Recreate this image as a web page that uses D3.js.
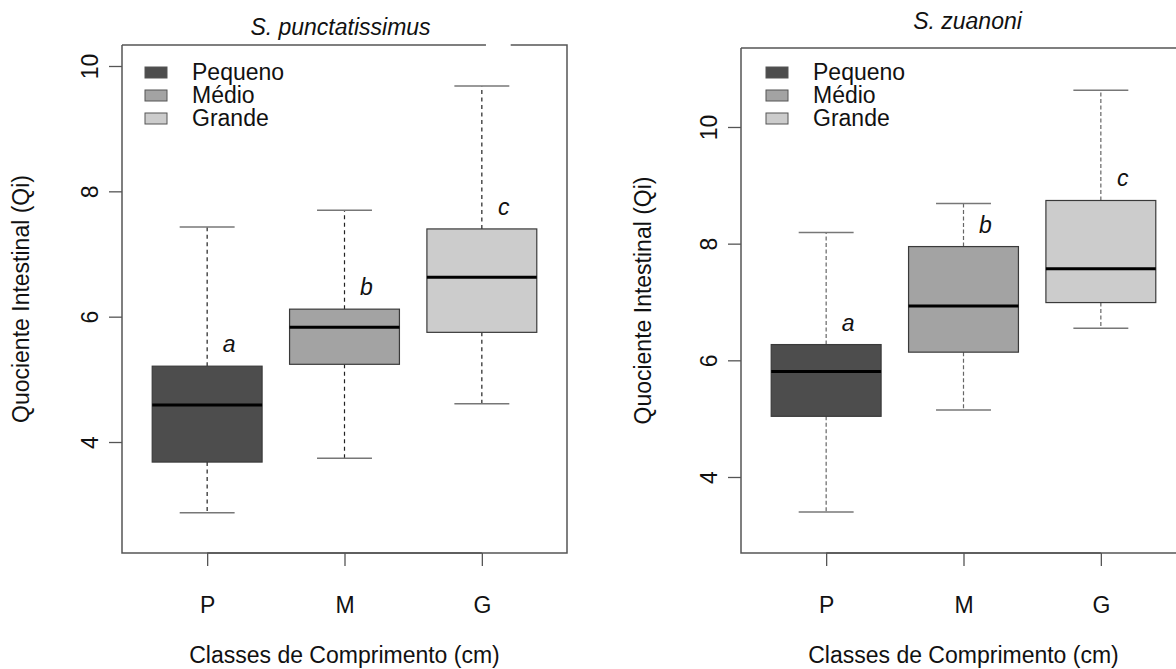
<!DOCTYPE html>
<html>
<head>
<meta charset="utf-8">
<script src="https://cdn.jsdelivr.net/npm/d3@7/dist/d3.min.js"></script>
<style>
  html, body { margin: 0; padding: 0; background: #fff; }
  svg { display: block; font-family: "Liberation Sans", Arial, Helvetica, sans-serif; }
</style>
</head>
<body>
<svg id="chart" width="1176" height="669"></svg>
<script>
// Size classes and their legend names
const classes = ["P", "M", "G"];
const classNames = ["Pequeno", "Médio", "Grande"];
const classFills = ["#4d4d4d", "#a3a3a3", "#cccccc"];

// Y-axis ticks per species
const ticksPunct = [4, 6, 8, 10];
const ticksZuan = [4, 6, 8, 10];

// Five-number summaries (lower whisker, Q1, median, Q3, upper whisker)
const punctLow = [2.87, 3.74, 4.61];
const punctQ1 = [3.68, 5.24, 5.75];
const punctMed = [4.59, 5.83, 6.63];
const punctQ3 = [5.21, 6.12, 7.40];
const punctHigh = [7.43, 7.70, 9.68];
const punctLetters = ["a", "b", "c"];

const zuanLow = [3.40, 5.15, 6.55];
const zuanQ1 = [5.04, 6.14, 6.99];
const zuanMed = [5.81, 6.93, 7.57];
const zuanQ3 = [6.27, 7.95, 8.74];
const zuanHigh = [8.19, 8.69, 10.63];
const zuanLetters = ["a", "b", "c"];

const FS = 23;
const svg = d3.select("#chart");

function panel(opt) {
  const g = svg.append("g");
  const x = d3.scaleLinear().domain([0.38, 3.62]).range([opt.left, opt.right]);
  const y = d3.scaleLinear().domain(opt.yDomain).range([opt.bottom, opt.top]);
  const boxW = x(1.4) - x(1);   // half of box width (0.8 units)
  const capW = boxW / 2;

  const rows = classes.map((c, i) => ({
    c, i, pos: i + 1,
    low: opt.low[i], q1: opt.q1[i], med: opt.med[i], q3: opt.q3[i], high: opt.high[i],
    letter: opt.letters[i], fill: classFills[i]
  }));

  // whiskers and staples
  rows.forEach(d => {
    [[d.q3, d.high], [d.q1, d.low]].forEach(([a, b]) => {
      g.append("line")
        .attr("x1", x(d.pos)).attr("x2", x(d.pos))
        .attr("y1", y(a)).attr("y2", y(b))
        .attr("stroke", opt.whiskerColor).attr("stroke-width", 1.2)
        .attr("stroke-dasharray", opt.dash);
      g.append("line")
        .attr("x1", x(d.pos) - capW).attr("x2", x(d.pos) + capW)
        .attr("y1", y(b)).attr("y2", y(b))
        .attr("stroke", "#777").attr("stroke-width", 1.5);
    });
  });

  // boxes
  g.selectAll("rect.box").data(rows).join("rect")
    .attr("class", "box")
    .attr("x", d => x(d.pos) - boxW)
    .attr("width", 2 * boxW)
    .attr("y", d => y(d.q3))
    .attr("height", d => y(d.q1) - y(d.q3))
    .attr("fill", d => d.fill)
    .attr("stroke", "#3a3a3a").attr("stroke-width", 1.2);

  // medians
  g.selectAll("line.med").data(rows).join("line")
    .attr("class", "med")
    .attr("x1", d => x(d.pos) - boxW).attr("x2", d => x(d.pos) + boxW)
    .attr("y1", d => y(d.med)).attr("y2", d => y(d.med))
    .attr("stroke", "#000").attr("stroke-width", 3);

  // significance letters above the upper quartile
  g.selectAll("text.let").data(rows).join("text")
    .attr("class", "let")
    .attr("x", d => x(d.pos) + 22)
    .attr("y", d => y(d.q3) - 14)
    .attr("text-anchor", "middle")
    .attr("font-style", "italic")
    .attr("font-size", FS)
    .attr("fill", "#111")
    .text(d => d.letter);

  // frame (top edge drawn with its break)
  const frame = d3.path();
  frame.moveTo(opt.left, opt.top);
  if (opt.topGap) {
    frame.lineTo(x(opt.topGap[0]), opt.top);
    frame.moveTo(x(opt.topGap[1]), opt.top);
  }
  frame.lineTo(opt.right, opt.top);
  frame.lineTo(opt.right, opt.bottom);
  frame.lineTo(opt.left, opt.bottom);
  frame.lineTo(opt.left, opt.top);
  g.append("path").attr("d", frame.toString())
    .attr("fill", "none").attr("stroke", "#555").attr("stroke-width", 1.5);

  // y axis
  const yAxis = g.append("g").attr("transform", `translate(${opt.left},0)`)
    .call(d3.axisLeft(y).tickValues(opt.ticks).tickSize(13).tickFormat(d3.format("d")));
  yAxis.select(".domain").remove();
  yAxis.selectAll(".tick line").attr("stroke", "#555").attr("stroke-width", 1.3);
  yAxis.selectAll(".tick text")
    .attr("font-size", FS).attr("fill", "#111")
    .attr("x", null).attr("dy", null)
    .attr("text-anchor", "middle")
    .attr("transform", "translate(-24,0) rotate(-90)")
    .attr("y", 0);
  yAxis.attr("font-size", FS);

  // x axis
  const xAxis = g.append("g").attr("transform", `translate(0,${opt.bottom})`)
    .call(d3.axisBottom(x).tickValues([1, 2, 3]).tickSize(13).tickFormat(d => classes[d - 1]));
  xAxis.select(".domain").remove();
  xAxis.append("line")
    .attr("x1", x(1)).attr("x2", x(3)).attr("y1", 0).attr("y2", 0)
    .attr("stroke", "#555").attr("stroke-width", 1.5);
  xAxis.selectAll(".tick line").attr("stroke", "#555").attr("stroke-width", 1.3);
  xAxis.selectAll(".tick text")
    .attr("font-size", FS).attr("fill", "#111").attr("y", 60).attr("dy", null);
  xAxis.attr("font-size", FS);

  // titles
  g.append("text")
    .attr("x", x(2) + opt.titleDx).attr("y", opt.titleY)
    .attr("text-anchor", "middle").attr("font-style", "italic")
    .attr("font-size", FS).attr("fill", "#111")
    .text(opt.title);
  g.append("text")
    .attr("x", x(2)).attr("y", 663)
    .attr("text-anchor", "middle").attr("font-size", FS).attr("fill", "#111")
    .text("Classes de Comprimento (cm)");
  g.append("text")
    .attr("transform", `translate(${opt.yLabelX},${(opt.top + opt.bottom) / 2}) rotate(-90)`)
    .attr("text-anchor", "middle").attr("font-size", FS).attr("fill", "#111")
    .text("Quociente Intestinal (Qi)");

  // legend
  const lg = g.append("g").attr("transform", `translate(${opt.legendX},${opt.legendY})`);
  classNames.forEach((n, i) => {
    lg.append("rect")
      .attr("x", 0).attr("y", i * 23 - 5).attr("width", 22).attr("height", 11)
      .attr("fill", classFills[i]).attr("stroke", "#555").attr("stroke-width", 1);
    lg.append("text")
      .attr("x", 47).attr("y", i * 23 + 8)
      .attr("font-size", FS).attr("fill", "#111")
      .text(n);
  });
}

panel({
  left: 122, right: 567, top: 45, bottom: 553,
  yDomain: [2.229, 10.335], ticks: ticksPunct,
  low: punctLow, q1: punctQ1, med: punctMed, q3: punctQ3, high: punctHigh,
  letters: punctLetters, title: "S. punctatissimus", titleY: 35, titleDx: -4,
  whiskerColor: "#222", dash: "4,3.5", topGap: [3.03, 3.21],
  legendX: 145, legendY: 72, yLabelX: 29
});

panel({
  left: 741, right: 1186, top: 48, bottom: 553,
  yDomain: [2.697, 11.354], ticks: ticksZuan,
  low: zuanLow, q1: zuanQ1, med: zuanMed, q3: zuanQ3, high: zuanHigh,
  letters: zuanLetters, title: "S. zuanoni", titleY: 29, titleDx: 4,
  whiskerColor: "#666", dash: "4,2.5", topGap: null,
  legendX: 766, legendY: 72, yLabelX: 651
});
</script>
</body>
</html>
